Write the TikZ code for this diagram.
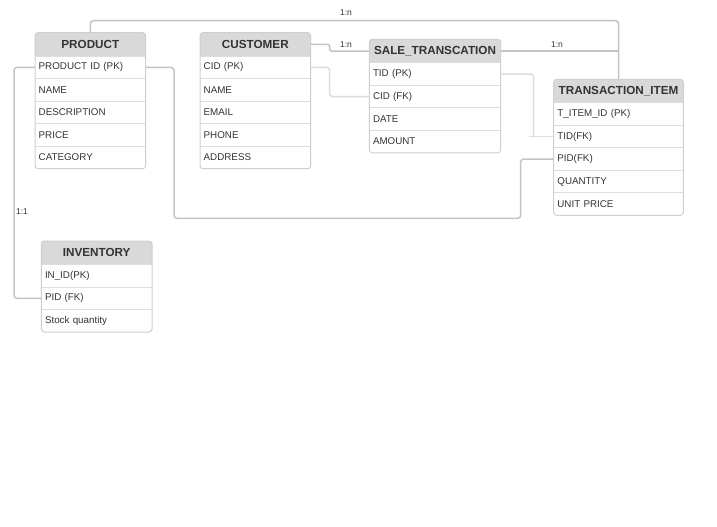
\documentclass[tikz,border=0pt]{standalone}
\usepackage{fontspec}
\setmainfont{Liberation Sans}
\usetikzlibrary{calc}
\definecolor{hdr}{HTML}{D9D9D9}
\definecolor{bord}{HTML}{CFCFCF}
\definecolor{sepc}{HTML}{DDDDDD}
\definecolor{conc}{HTML}{C4C4C4}
\definecolor{txt}{HTML}{333333}
\tikzset{
 tbox/.style={fill=white, anchor=north west, inner sep=0pt, outer sep=0pt},
 tborder/.style={draw=bord, line width=1pt, rounded corners=3pt},
 hcell/.style={fill=hdr, anchor=north west, inner sep=0pt, outer sep=0pt, font=\fontsize{11.7}{13}\selectfont\bfseries, text=txt},
 rcell/.style={anchor=north west, inner sep=0pt, inner xsep=3.7pt, outer sep=0pt, font=\fontsize{9.8}{11}\selectfont, text=txt, align=left},
 sepline/.style={draw=sepc, line width=1pt},
 conn/.style={draw=conc, line width=1.5pt, rounded corners=3pt},
 lbl/.style={font=\fontsize{8.5}{10}\selectfont, text=txt, inner sep=0pt}
}
\newcommand{\ertable}[7]{%
 \pgfmathsetmacro\ertw{#4-7.4}%
 \node[tbox, minimum width=#4pt, minimum height={23.5pt+#5*22.5pt}] (#1) at (#2,#3) {};
 \begin{scope}
 \clip[rounded corners=3pt] (#1.north west) rectangle (#1.south east);
 \node[hcell, minimum width=#4pt, minimum height=23.5pt] (#1-h) at (#1.north west) {#6};
 \end{scope}
 \foreach \t [count=\i] in {#7} {
 \node[rcell, text width=\ertw pt, minimum height=22.5pt] (#1-\i) at ($(#1-h.south west)+(0,{(\i-1)*22.5})$) {\t};
 \draw[sepline] (#1-\i.north west) -- (#1-\i.north east);
 }
 \draw[tborder] (#1.north west) rectangle (#1.south east);
}
\begin{document}
\begin{tikzpicture}[x=1pt,y=-1pt]
\useasboundingbox[fill=white] (0,0) rectangle (717,527);
\ertable{prod}{35}{32.7}{110.7}{5}{PRODUCT}{PRODUCT ID (PK),NAME,DESCRIPTION,PRICE,CATEGORY}
\ertable{cust}{200}{32.7}{110.7}{5}{CUSTOMER}{CID (PK),NAME,EMAIL,PHONE,ADDRESS}
\ertable{sale}{369.3}{39.3}{131.4}{4}{SALE\_TRANSCATION}{TID (PK),CID (FK),DATE,AMOUNT}
\ertable{trans}{553.7}{79.3}{129.6}{5}{TRANSACTION\_ITEM}{T\_ITEM\_ID (PK),TID(FK),PID(FK),QUANTITY,UNIT PRICE}
\ertable{inv}{41.3}{241}{110.7}{3}{INVENTORY}{IN\_ID(PK),PID (FK),Stock quantity}
% connectors
\coordinate (c1) at (0,20.7);
\draw[conn] (prod-h.north) |- (c1 -| trans-h.north) -- (trans-h.north);
\draw[conn, rounded corners=2pt] (cust-h.east) -- ++(19,0) |- (sale-h.west);
\draw[conn] (sale-h.east) -- (sale-h.east -| trans-h.north);
\draw[conn, draw=sepc] (cust-1.east) -- ++(19,0) |- (sale-2.west);
\coordinate (c5) at (533.7,0);
\draw[conn, draw=sepc] (sale-1.east) -| (c5 |- trans-2.west);
\draw[conn, draw=sepc] ([xshift=-25pt]trans-2.west) -- (trans-2.west);
\coordinate (c6a) at (174,218.3);
\coordinate (c6b) at (520.7,218.3);
\draw[conn] (prod-1.east) -| (c6a) -- (c6b) |- (trans-3.west);
\coordinate (c7) at (14,298.3);
\draw[conn] (prod-1.west) -| (c7) -- (inv-2.west);
% labels
\node[lbl] (l1) at (346,13) {1:n};
\node[lbl] (l2) at (346,44.5) {1:n};
\node[lbl] (l3) at (557,44.5) {1:n};
\node[lbl] (l4) at (22,211.5) {1:1};
\end{tikzpicture}
\end{document}
